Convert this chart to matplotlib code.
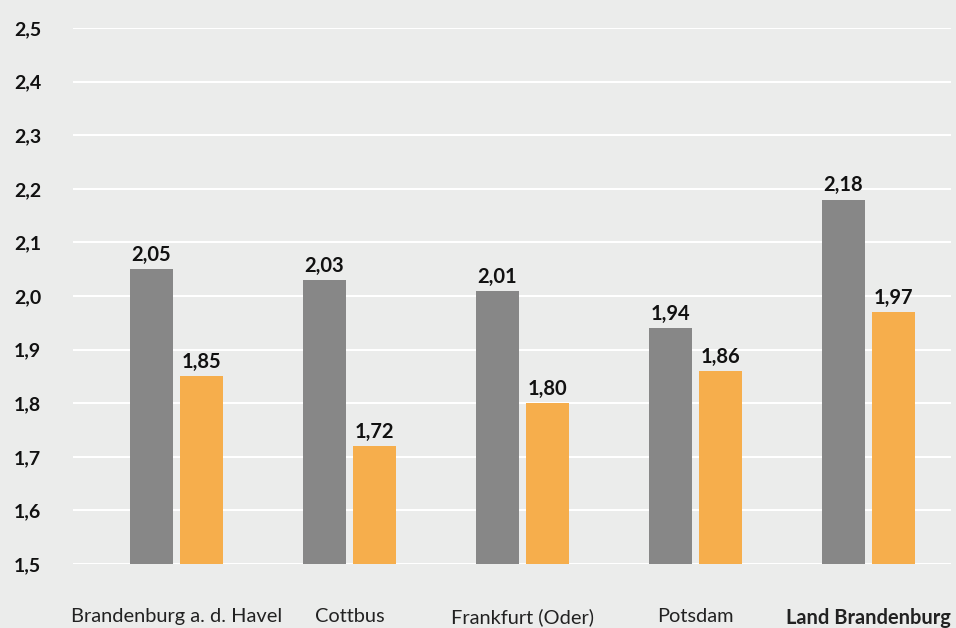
import numpy as np
import matplotlib.pyplot as plt

# Kreise und Land, zwei Werte je Gebiet
gebiete = ['Brandenburg a. d. Havel', 'Cottbus', 'Frankfurt (Oder)', 'Potsdam', 'Land Brandenburg']
werte_grau = [2.05, 2.03, 2.01, 1.94, 2.18]
werte_orange = [1.85, 1.72, 1.80, 1.86, 1.97]
y_ticks = [1.5, 1.6, 1.7, 1.8, 1.9, 2.0, 2.1, 2.2, 2.3, 2.4, 2.5]

plt.rcParams['font.family'] = ['Lato', 'DejaVu Sans']
bg = '#ebeceb'

fig = plt.figure(figsize=(9.56, 6.28), dpi=100, facecolor=bg)
ax = fig.add_axes([73/956, 64/628, 878/956, 536/628], facecolor=bg)

x = np.arange(len(gebiete))
w = 0.25
off = 0.1445
b1 = ax.bar(x - off, werte_grau, w, color='#878787', zorder=3)
b2 = ax.bar(x + off, werte_orange, w, color='#f6ae4c', zorder=3)

def fmt(v):
    return f'{v:.2f}'.replace('.', ',')

for bars, vals in ((b1, werte_grau), (b2, werte_orange)):
    for r, v in zip(bars, vals):
        ax.annotate(fmt(v), (r.get_x() + r.get_width()/2, v), xytext=(0, 3),
                    textcoords='offset points', ha='center', va='bottom',
                    fontsize=14.5, fontweight='bold', color='#111111')

ax.set_ylim(1.5, 2.5)
ax.set_xlim(-0.598, 4.477)
ax.set_yticks(y_ticks)
ax.set_yticklabels([f'{t:.1f}'.replace('.', ',') for t in y_ticks],
                   fontsize=14, fontweight='bold', color='#111111')
ax.yaxis.grid(True, color='white', linewidth=1.5, zorder=0)
ax.tick_params(axis='y', length=0, pad=23)
ax.tick_params(axis='x', length=0, pad=32)
ax.set_xticks(x)
ax.set_xticklabels(gebiete, fontsize=14.4, color='#222222')
ax.get_xticklabels()[-1].set_fontweight('bold')
for s in ax.spines.values():
    s.set_visible(False)

fig.savefig('out.png', dpi=100, facecolor=bg)
